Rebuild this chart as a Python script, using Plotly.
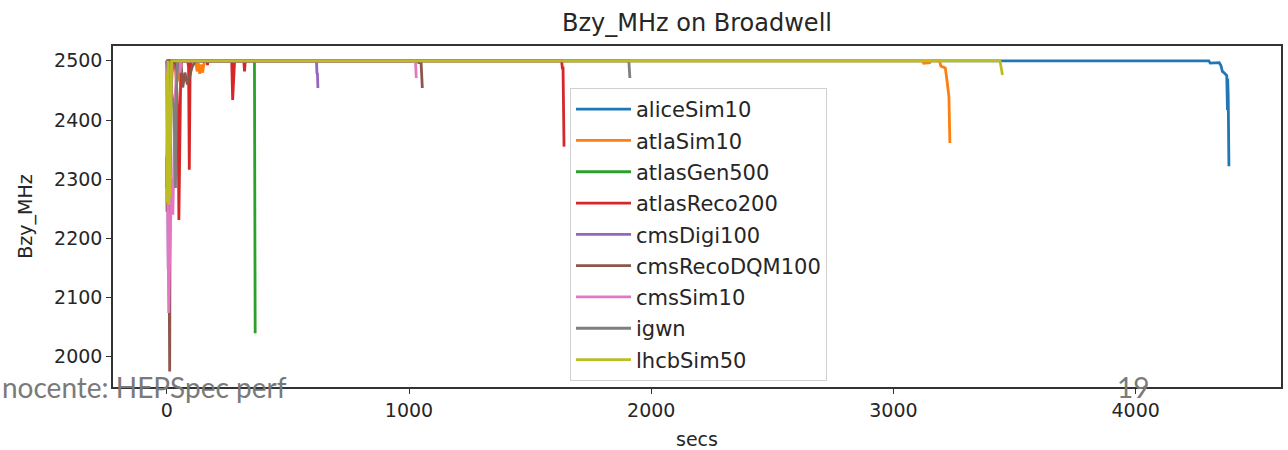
import plotly.graph_objects as go

# ---------------- data ----------------
series_names = ["aliceSim10", "atlaSim10", "atlasGen500", "atlasReco200", "cmsDigi100",
                "cmsRecoDQM100", "cmsSim10", "igwn", "lhcbSim50"]

alice_secs = [0, 3, 6, 9, 4302, 4308, 4345, 4352, 4358, 4364, 4370, 4376, 4379, 4380, 4382, 4385]
alice_mhz = [2285, 2440, 2500, 2500, 2500, 2496, 2497, 2492, 2482, 2480, 2478, 2475, 2417, 2470, 2440, 2322]

atla_secs = [0, 3, 6, 40, 44, 48, 120, 125, 130, 136, 142, 148, 154, 160, 3120, 3125, 3150, 3155, 3190,
             3196, 3214, 3220, 3225, 3229, 3233]
atla_mhz = [2470, 2490, 2500, 2500, 2465, 2500, 2500, 2482, 2496, 2478, 2494, 2480, 2497, 2500, 2500,
            2496, 2497, 2500, 2500, 2491, 2488, 2470, 2452, 2440, 2361]

gen_secs = [0, 1, 3, 360, 362, 365]
gen_mhz = [2500, 2490, 2500, 2500, 2497, 2040]

reco_secs = [0, 35, 42, 47, 50, 54, 58, 63, 66, 86, 90, 93, 96, 100, 165, 168, 171, 268, 272, 276, 280,
             318, 321, 324, 1630, 1633, 1636, 1640]
reco_mhz = [2500, 2500, 2446, 2400, 2231, 2430, 2490, 2500, 2500, 2500, 2490, 2316, 2470, 2500, 2500,
            2493, 2500, 2500, 2434, 2470, 2500, 2500, 2482, 2500, 2500, 2488, 2488, 2355]

digi_secs = [0, 3, 6, 9, 12, 18, 22, 28, 618, 620, 622, 624]
digi_mhz = [2500, 2260, 2147, 2300, 2460, 2451, 2480, 2500, 2500, 2479, 2478, 2454]

dqm_secs = [0, 1, 2, 5, 10, 12, 14, 20, 60, 66, 75, 85, 95, 105, 115, 120, 1036, 1040, 1050, 1055]
dqm_mhz = [2338, 2245, 2330, 2500, 2100, 1975, 2300, 2500, 2490, 2455, 2480, 2460, 2475, 2490, 2497,
           2500, 2500, 2497, 2497, 2454]

sim_secs = [0, 2, 5, 8, 11, 15, 20, 25, 30, 35, 40, 45, 55, 60, 1024, 1027, 1030]
sim_mhz = [2500, 2412, 2200, 2074, 2147, 2250, 2300, 2240, 2350, 2440, 2480, 2497, 2480, 2500, 2500,
           2497, 2471]

igwn_secs = [0, 30, 36, 40, 45, 1905, 1908, 1912]
igwn_mhz = [2500, 2420, 2285, 2450, 2500, 2500, 2497, 2471]

lhcb_secs = [0, 2, 4, 6, 8, 10, 12, 14, 16, 18, 20, 3440, 3445, 3450]
lhcb_mhz = [2260, 2480, 2300, 2500, 2257, 2400, 2270, 2330, 2450, 2480, 2500, 2500, 2490, 2476]

all_secs = [alice_secs, atla_secs, gen_secs, reco_secs, digi_secs, dqm_secs, sim_secs, igwn_secs, lhcb_secs]
all_mhz = [alice_mhz, atla_mhz, gen_mhz, reco_mhz, digi_mhz, dqm_mhz, sim_mhz, igwn_mhz, lhcb_mhz]

x_ticks = [0, 1000, 2000, 3000, 4000]
y_ticks = [2000, 2100, 2200, 2300, 2400, 2500]

# ---------------- styling ----------------
colors = ["#1f77b4", "#ff7f0e", "#2ca02c", "#d62728", "#9467bd",
          "#8c564b", "#e377c2", "#7f7f7f", "#bcbd22"]
FONT = "DejaVu Sans"
L, R, T, B = 113, 7, 46, 63
PW = 1288 - L - R
PH = 450 - T - B

fig = go.Figure()
for name, xs, ys, c in zip(series_names, all_secs, all_mhz, colors):
    fig.add_trace(go.Scatter(x=xs, y=ys, mode="lines", name=name, legendgroup=name,
                             line=dict(color=c, width=2.8)))

axis_common = dict(showline=True, mirror=True, linecolor="#333333", linewidth=1.5,
                   ticks="outside", ticklen=5, tickwidth=1.2, tickcolor="#333333",
                   showgrid=False, zeroline=False, automargin=False,
                   tickfont=dict(family=FONT, size=19, color="#262626"))

fig.update_layout(
    width=1288, height=450,
    margin=dict(l=L, r=R, t=T, b=B, autoexpand=False),
    paper_bgcolor="white", plot_bgcolor="white",
    title=dict(text="Bzy_MHz on Broadwell", x=(L + 1281) / 2 / 1288, xanchor="center",
               y=1 - 23 / 450, yanchor="middle",
               font=dict(family=FONT, size=24, color="#262626")),
    xaxis=dict(range=[-222, 4600], tickvals=x_ticks,
               title=dict(text="secs", standoff=13, font=dict(family=FONT, size=19, color="#262626")),
               **axis_common),
    yaxis=dict(range=[1949, 2525], tickvals=y_ticks,
               title=dict(text="Bzy_MHz", standoff=16, font=dict(family=FONT, size=19, color="#262626")),
               **axis_common),
    legend=dict(x=(570 - L) / PW, y=(T + PH - 88) / PH, xanchor="left", yanchor="top",
                bgcolor="rgba(255,255,255,0.85)", bordercolor="#d0d0d0", borderwidth=1,
                font=dict(family=FONT, size=21, color="#262626"), tracegroupgap=1,
                itemwidth=55, traceorder="grouped"),
    showlegend=True,
)

# slide overlay texts
fig.add_annotation(text="nocente: HEPSpec perf", xref="paper", yref="paper",
                   x=-L / PW, y=0, xanchor="left", yanchor="middle", showarrow=False,
                   font=dict(family="Lato", size=28, color="#7a7a7a"))
fig.add_annotation(text="19", xref="paper", yref="paper",
                   x=(1133 - L) / PW, y=0, xanchor="center", yanchor="middle",
                   showarrow=False, font=dict(family="Lato", size=28, color="#7a7a7a"))

fig.write_html("out.html")
